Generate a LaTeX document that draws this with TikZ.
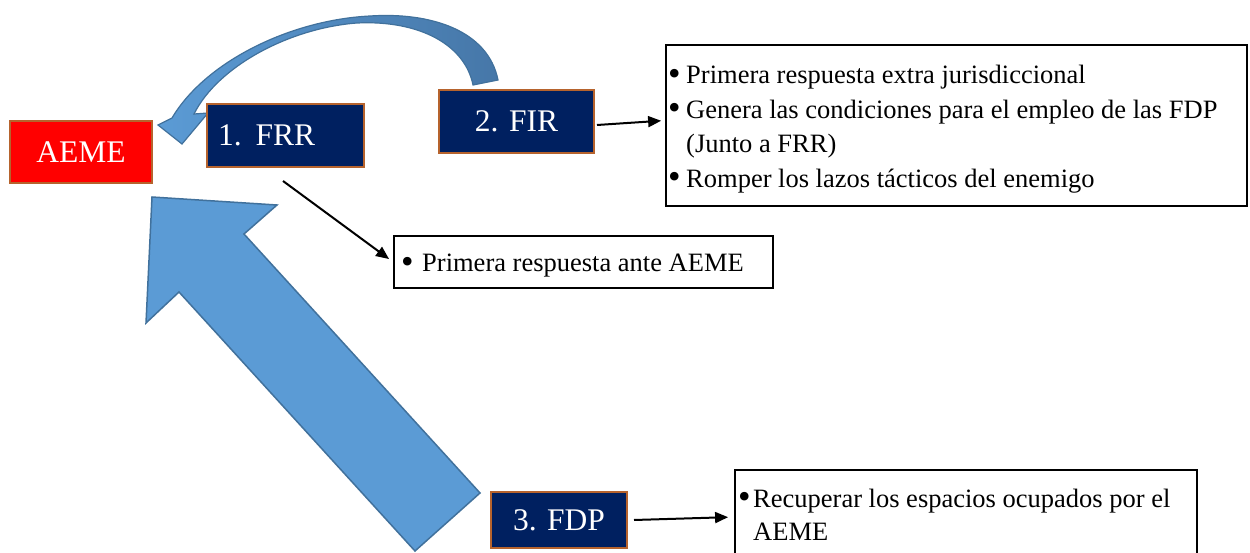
\documentclass[tikz,border=0pt]{standalone}
\usepackage{fontspec}
\setmainfont{Liberation Serif}
\usetikzlibrary{arrows.meta,calc}
\definecolor{navy}{HTML}{002060}
\definecolor{brownb}{HTML}{B6632D}
\definecolor{aemered}{HTML}{FF0000}
\definecolor{arrowfill}{HTML}{5B9BD5}
\definecolor{arrowdark}{HTML}{4677A8}
\definecolor{arrowline}{HTML}{41719C}
\newcommand{\mybullet}[1]{\makebox[#1][l]{\raisebox{-1.5pt}{\scalebox{1.35}{\textbullet}}}}
\begin{document}
\begin{tikzpicture}[x=1pt,y=-1pt,
  unit/.style={draw=brownb, line width=2.5pt, fill=navy, text=white,
    font=\fontsize{31.5}{35}\selectfont, inner sep=0pt},
  infobox/.style={draw=black, line width=1.8pt, inner sep=0pt},
  itemtext/.style={anchor=base west, font=\fontsize{26.5}{30}\selectfont, inner sep=0pt},
  conn/.style={line width=2pt, -{Triangle[length=13pt,width=11pt]}},
  bigarrow/.style={fill=arrowfill, draw=arrowline, line width=1.5pt, line join=miter},
  curvarrow/.style={left color=arrowfill, right color=arrowdark, draw=arrowline, line width=1.2pt, line join=miter}]
\useasboundingbox (0,0) rectangle (1250,553);

% big straight arrow
\draw[bigarrow] (152,197) -- (277,205) -- (244,234) -- (480,493) -- (415,551)
  -- (179,292) -- (146,323) -- cycle;

% curved arrow
\draw[curvarrow] (498,80) .. controls (488,30) and (430,12) .. (370,16)
  .. controls (290,20) and (205,62) .. (172,118) -- (158,125) -- (182,144)
  -- (208,113) -- (194,114) .. controls (218,66) and (290,28) .. (357,23)
  .. controls (420,20) and (465,45) .. (473,85) -- cycle;

% unit boxes
\node[unit, fill=aemered, minimum width=142pt, minimum height=62pt] (aeme) at (81,152) {AEME};
\node[unit, minimum width=157pt, minimum height=63pt, text width=143pt, inner xsep=7pt, align=left] (frr) at (285.5,135.5) {\hspace{4pt}1.\hspace{14pt}FRR};
\node[unit, minimum width=155pt, minimum height=63pt] (fir) at (516.5,121.5) {2. FIR};
\node[unit, minimum width=136pt, minimum height=56pt] (fdp) at (559,520) {3. FDP};

% info boxes
\node[infobox, minimum width=581pt, minimum height=161pt] (firinfo) at (956.5,125.5) {};
\node[infobox, minimum width=379pt, minimum height=52pt] (frrinfo) at (583.5,262) {};
\node[infobox, minimum width=462pt, minimum height=100pt] (fdpinfo) at (966,520) {};

% info texts
\node[itemtext] (f1) at (668,84) {\mybullet{18pt}Primera respuesta extra jurisdiccional};
\node[itemtext] (f2) at (668,118.5) {\mybullet{18pt}Genera las condiciones para el empleo de las FDP};
\node[itemtext] (f3) at (686,153) {(Junto a FRR)};
\node[itemtext] (f4) at (668,187.5) {\mybullet{18pt}Romper los lazos tácticos del enemigo};
\node[itemtext] (r1) at (401,272) {\mybullet{21pt}Primera respuesta ante AEME};
\node[itemtext] (d1) at (738,507) {\mybullet{15pt}Recuperar los espacios ocupados por el};
\node[itemtext] (d2) at (753,540) {AEME};

% connectors
\coordinate (frrout) at (283,181);
\coordinate (firout) at (597,125);
\coordinate (fdpout) at (634,520);
\draw[conn, shorten >=5pt] (frrout) -- (frrinfo.west);
\draw[conn, shorten >=4pt] (firout) -- ($(firinfo.west)+(0,-5)$);
\draw[conn, shorten >=6pt] (fdpout) -- ($(fdpinfo.west)+(0,-3)$);
\end{tikzpicture}
\end{document}
